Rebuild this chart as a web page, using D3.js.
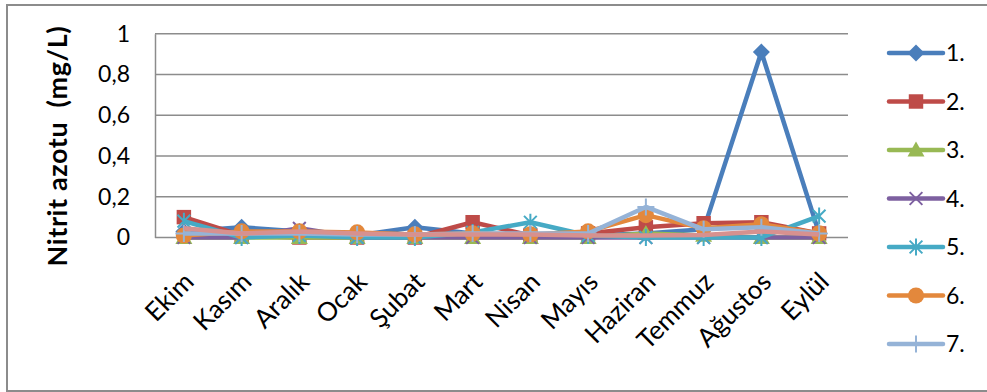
<!DOCTYPE html>
<html>
<head>
<meta charset="utf-8">
<script src="https://cdn.jsdelivr.net/npm/d3@7"></script>
<style>
  html, body { margin: 0; padding: 0; background: #fff; }
  svg { display: block; font-family: Lato, "Open Sans", sans-serif; }
</style>
</head>
<body>
<svg id="chart" width="987" height="392"></svg>
<script>
// Monthly nitrite nitrogen values for each sampling station
const months = ["Ekim", "Kasım", "Aralık", "Ocak", "Şubat", "Mart", "Nisan", "Mayıs", "Haziran", "Temmuz", "Ağustos", "Eylül"];
const seriesNames = ["1.", "2.", "3.", "4.", "5.", "6.", "7.", "8."];
const legendNames = ["1.", "2.", "3.", "4.", "5.", "6.", "7."];
const s1 = [0.03, 0.05, 0.03, 0.01, 0.05, 0.02, 0.01, 0.01, 0.02, 0.04, 0.91, 0.02];
const s2 = [0.10, 0.01, 0.00, 0.00, 0.00, 0.075, 0.01, 0.02, 0.05, 0.07, 0.075, 0.02];
const s3 = [0.00, 0.00, 0.00, 0.00, 0.00, 0.00, 0.00, 0.00, 0.02, 0.01, 0.00, 0.00];
const s4 = [0.00, 0.00, 0.045, 0.00, 0.00, 0.00, 0.00, 0.00, 0.00, 0.00, 0.00, 0.00];
const s5 = [0.08, 0.00, 0.01, 0.00, 0.00, 0.025, 0.075, 0.01, 0.00, 0.00, 0.00, 0.105];
const s6 = [0.01, 0.03, 0.03, 0.025, 0.015, 0.02, 0.015, 0.03, 0.11, 0.045, 0.065, 0.02];
const s7 = [0.02, 0.02, 0.02, 0.015, 0.015, 0.02, 0.02, 0.02, 0.15, 0.04, 0.05, 0.02];
const s8 = [0.045, 0.02, 0.03, 0.02, 0.015, 0.015, 0.015, 0.01, 0.01, 0.012, 0.03, 0.015];
const yTicks = [0, 0.2, 0.4, 0.6, 0.8, 1];
const yTitle = "Nitrit azotu  (mg/L)";

const seriesValues = [s1, s2, s3, s4, s5, s6, s7, s8];
const colors = ["#4A7EBB", "#BE4B48", "#98B954", "#7D60A0", "#46AAC5", "#E3883C", "#95B3D7", "#D7918F"];
const markers = ["diamond", "square", "triangle", "x", "star", "circle", "plus", "none"];

const svg = d3.select("#chart");
const fmt = d => d === 0 ? "0" : d === 1 ? "1" : d3.format(".1f")(d).replace(".", ",");

// Outer chart frame
svg.append("rect")
  .attr("x", 7).attr("y", 5).attr("width", 1000).attr("height", 386)
  .attr("fill", "#fff").attr("stroke", "#8c8c8c").attr("stroke-width", 2);

const plot = { left: 155, right: 848, top: 33.7, bottom: 237.5 };

const x = d3.scalePoint().domain(months).range([plot.left, plot.right]).padding(0.5);
const y = d3.scaleLinear().domain([0, 1]).range([plot.bottom, plot.top]);

// Horizontal gridlines
svg.append("g")
  .selectAll("line").data(yTicks).join("line")
  .attr("x1", plot.left).attr("x2", plot.right)
  .attr("y1", d => y(d)).attr("y2", d => y(d))
  .attr("stroke", "#8c8c8c").attr("stroke-width", 1.5);

// Y axis
const yAxis = svg.append("g")
  .attr("transform", `translate(${plot.left},0)`)
  .call(d3.axisLeft(y).tickValues(yTicks).tickFormat(fmt).tickSize(0).tickPadding(25));
yAxis.select(".domain").attr("stroke", "#8c8c8c").attr("stroke-width", 1.5);
yAxis.selectAll("text").attr("font-size", 23).attr("fill", "#000")
  .attr("font-family", "Lato, sans-serif");

// X axis labels, rotated
const xAxis = svg.append("g")
  .attr("transform", `translate(0,${plot.bottom})`)
  .call(d3.axisBottom(x).tickSize(0).tickPadding(0));
xAxis.select(".domain").remove();
xAxis.selectAll(".tick text")
  .attr("font-size", 26).attr("fill", "#000").attr("font-family", "Lato, sans-serif")
  .attr("text-anchor", "end")
  .attr("y", 0)
  .attr("dy", 0)
  .attr("transform", "translate(11,46) rotate(-45)");

// Y axis title
svg.append("text")
  .attr("transform", "translate(67,146) rotate(-90)")
  .attr("text-anchor", "middle")
  .attr("font-size", 27).attr("font-weight", "bold")
  .attr("font-family", "Lato, sans-serif")
  .attr("letter-spacing", 0.6)
  .attr("xml:space", "preserve")
  .style("white-space", "pre")
  .text(yTitle);

// Marker shapes
function drawMarker(g, type, color, size) {
  const s = size;
  if (type === "diamond") {
    g.append("path").attr("d", `M0,${-s}L${s},0L0,${s}L${-s},0Z`).attr("fill", color);
  } else if (type === "square") {
    g.append("rect").attr("x", -s * 0.85).attr("y", -s * 0.85)
      .attr("width", s * 1.7).attr("height", s * 1.7).attr("fill", color);
  } else if (type === "triangle") {
    g.append("path").attr("d", `M0,${-s}L${s},${s * 0.75}L${-s},${s * 0.75}Z`).attr("fill", color);
  } else if (type === "circle") {
    g.append("circle").attr("r", s * 0.95).attr("fill", color);
  } else if (type === "x") {
    const a = s * 0.75;
    g.append("path").attr("d", `M${-a},${-a}L${a},${a}M${-a},${a}L${a},${-a}`)
      .attr("stroke", color).attr("stroke-width", 2).attr("fill", "none");
  } else if (type === "star") {
    const a = s * 0.75;
    g.append("path").attr("d", `M${-a},${-a}L${a},${a}M${-a},${a}L${a},${-a}M0,${-s}L0,${s}`)
      .attr("stroke", color).attr("stroke-width", 2).attr("fill", "none");
  } else if (type === "plus") {
    g.append("path").attr("d", `M0,${-s}L0,${s}M${-s},0L${s},0`)
      .attr("stroke", color).attr("stroke-width", 2).attr("fill", "none");
  }
}

const line = d3.line().x((d, i) => x(months[i])).y(d => y(d));

// Series lines and markers
seriesValues.forEach((vals, k) => {
  const g = svg.append("g").attr("class", "series").attr("data-name", seriesNames[k]);
  g.append("path").datum(vals)
    .attr("d", line)
    .attr("fill", "none").attr("stroke", colors[k])
    .attr("stroke-width", 4.5).attr("stroke-linejoin", "round");
  vals.forEach((v, i) => {
    const m = g.append("g").attr("transform", `translate(${x(months[i])},${y(v)})`);
    drawMarker(m, markers[k], colors[k], 8.5);
  });
});

// Legend
const legY = d3.scaleLinear().domain([0, 1]).range([53, 101.5]);
legendNames.forEach((name, k) => {
  const ly = legY(k);
  const item = svg.append("g").attr("transform", `translate(0,${ly})`);
  item.append("line").attr("x1", 889).attr("x2", 943).attr("y1", 0).attr("y2", 0)
    .attr("stroke", colors[k]).attr("stroke-width", 4.5).attr("stroke-linecap", "round");
  const m = item.append("g").attr("transform", "translate(916,0)");
  drawMarker(m, markers[k], colors[k], 8.5);
  item.append("text").attr("x", 946).attr("y", 0).attr("dy", "0.36em")
    .attr("font-size", 23).attr("font-family", "Lato, sans-serif").attr("fill", "#000")
    .text(name);
});
</script>
</body>
</html>
